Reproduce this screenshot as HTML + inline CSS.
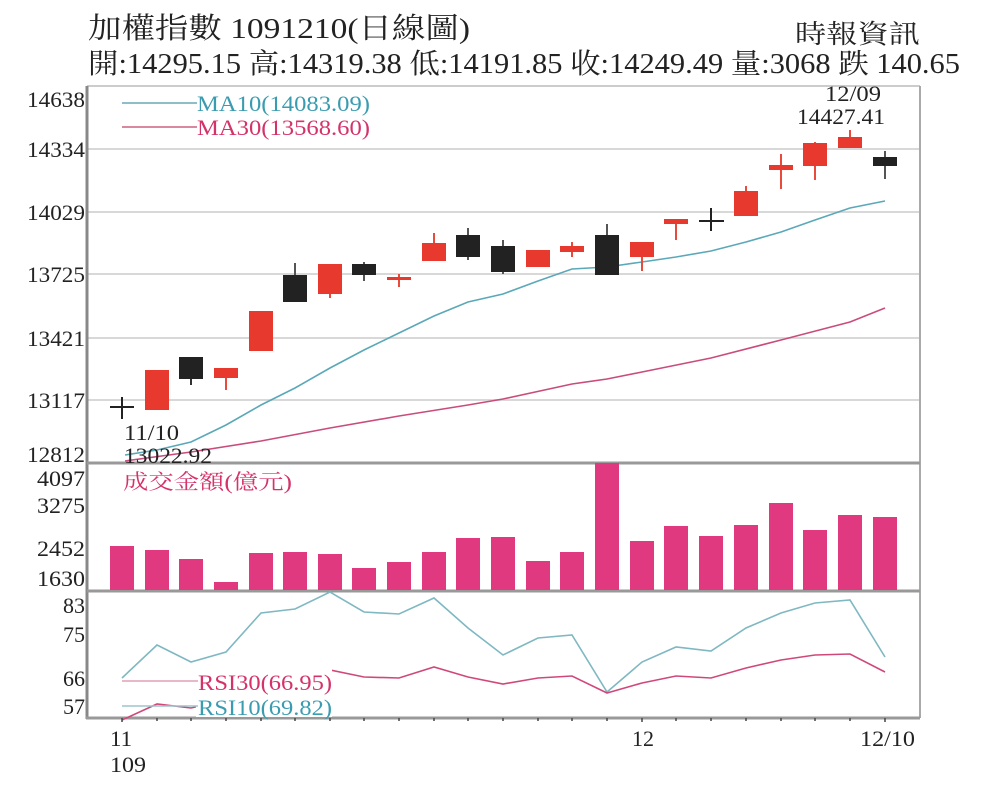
<!DOCTYPE html>
<html><head><meta charset="utf-8"><style>
html,body{margin:0;padding:0;background:#fff;}
svg{display:block;}
text{font-family:"Liberation Serif","Noto Serif CJK SC","Noto Sans CJK TC",serif;}
</style></head><body>
<svg width="1000" height="801" viewBox="0 0 1000 801" xmlns="http://www.w3.org/2000/svg">
<rect width="1000" height="801" fill="#fff"/>
<text x="88" y="38" font-size="29" fill="#222" textLength="382" lengthAdjust="spacingAndGlyphs">加權指數 1091210(日線圖)</text>
<text x="795" y="43" font-size="26" fill="#222" textLength="125" lengthAdjust="spacingAndGlyphs">時報資訊</text>
<text x="88" y="73" font-size="28" fill="#222" textLength="872" lengthAdjust="spacingAndGlyphs">開:14295.15 高:14319.38 低:14191.85 收:14249.49 量:3068 跌 140.65</text>
<g stroke="#d8d8d8" stroke-width="2">
<line x1="87" y1="149" x2="920" y2="149"/><line x1="87" y1="212" x2="920" y2="212"/>
<line x1="87" y1="274" x2="920" y2="274"/><line x1="87" y1="338" x2="920" y2="338"/>
<line x1="87" y1="400" x2="920" y2="400"/>
</g>
<g stroke="#999" stroke-width="2" fill="none">
<line x1="87" y1="86" x2="920" y2="86" stroke="#ccc"/>
<line x1="920" y1="86" x2="920" y2="718" stroke="#aaa"/>
<line x1="87" y1="86" x2="87" y2="719" stroke="#888" stroke-width="3"/>
<line x1="87" y1="463" x2="920" y2="463" stroke-width="3"/>
<line x1="87" y1="591" x2="920" y2="591" stroke-width="3"/>
<line x1="86" y1="718" x2="920" y2="718" stroke-width="3"/>
</g>
<g font-size="22" fill="#222" text-anchor="end">
<text x="85" y="107" textLength="58" lengthAdjust="spacingAndGlyphs">14638</text><text x="85" y="157" textLength="58" lengthAdjust="spacingAndGlyphs">14334</text><text x="85" y="220" textLength="58" lengthAdjust="spacingAndGlyphs">14029</text>
<text x="85" y="282" textLength="58" lengthAdjust="spacingAndGlyphs">13725</text><text x="85" y="346" textLength="58" lengthAdjust="spacingAndGlyphs">13421</text><text x="85" y="408" textLength="58" lengthAdjust="spacingAndGlyphs">13117</text>
<text x="85" y="462" textLength="58" lengthAdjust="spacingAndGlyphs">12812</text>
<text x="85" y="486" textLength="48" lengthAdjust="spacingAndGlyphs">4097</text><text x="85" y="513" textLength="48" lengthAdjust="spacingAndGlyphs">3275</text><text x="85" y="556" textLength="48" lengthAdjust="spacingAndGlyphs">2452</text><text x="85" y="586" textLength="48" lengthAdjust="spacingAndGlyphs">1630</text>
<text x="85" y="613">83</text><text x="85" y="642">75</text><text x="85" y="686">66</text><text x="85" y="714">57</text>
</g>
<line x1="122" y1="103" x2="197" y2="103" stroke="#8fbfc6" stroke-width="2"/>
<line x1="122" y1="127" x2="197" y2="127" stroke="#d9899f" stroke-width="2"/>
<text x="197" y="111" font-size="22" fill="#3a9cb0" textLength="173" lengthAdjust="spacingAndGlyphs">MA10(14083.09)</text>
<text x="197" y="135" font-size="22" fill="#d4326a" textLength="173" lengthAdjust="spacingAndGlyphs">MA30(13568.60)</text>
<polyline fill="none" stroke="#5aa8b8" stroke-width="1.6" points="125,455 157,450 191,442 226,425 261,405 295,388 330,368 364,350 399,333 434,316 468,302 503,294 538,281 572,269 607,267 642,262 676,257 711,251 746,242 781,232 815,220 850,208 885,201"/>
<polyline fill="none" stroke="#c94c7c" stroke-width="1.6" points="125,461 191,452 261,441 330,428 399,416 468,405 503,399 572,384 607,379 642,372 711,358 781,340 850,322 885,308"/>
<g stroke-width="2">
<line x1="110" y1="407" x2="134" y2="407" stroke="#222"/><line x1="122" y1="397" x2="122" y2="419" stroke="#222"/>
<line x1="191" y1="357" x2="191" y2="385" stroke="#333"/>
<line x1="226" y1="368" x2="226" y2="390" stroke="#e84b3c"/>
<line x1="295" y1="263" x2="295" y2="302" stroke="#555"/>
<line x1="330" y1="264" x2="330" y2="298" stroke="#e84b3c"/>
<line x1="364" y1="262" x2="364" y2="281" stroke="#555"/>
<line x1="399" y1="274" x2="399" y2="287" stroke="#e84b3c"/>
<line x1="434" y1="233" x2="434" y2="261" stroke="#e84b3c"/>
<line x1="468" y1="228" x2="468" y2="260" stroke="#555"/>
<line x1="503" y1="240" x2="503" y2="274" stroke="#555"/>
<line x1="572" y1="242" x2="572" y2="257" stroke="#e84b3c"/>
<line x1="607" y1="224" x2="607" y2="275" stroke="#555"/>
<line x1="642" y1="242" x2="642" y2="271" stroke="#e84b3c"/>
<line x1="676" y1="219" x2="676" y2="240" stroke="#e84b3c"/>
<line x1="711" y1="208" x2="711" y2="231" stroke="#222"/><line x1="699" y1="221" x2="724" y2="221" stroke="#222"/>
<line x1="746" y1="186" x2="746" y2="216" stroke="#e84b3c"/>
<line x1="781" y1="154" x2="781" y2="189" stroke="#e84b3c"/>
<line x1="815" y1="142" x2="815" y2="180" stroke="#e84b3c"/>
<line x1="850" y1="130" x2="850" y2="148" stroke="#e84b3c"/>
<line x1="885" y1="151" x2="885" y2="179" stroke="#555"/>
</g>
<g fill="#e8392e">
<rect x="145" y="370" width="24" height="40"/>
<rect x="214" y="368" width="24" height="10"/>
<rect x="249" y="311" width="24" height="40"/>
<rect x="318" y="264" width="24" height="30"/>
<rect x="387" y="277" width="24" height="3"/>
<rect x="422" y="243" width="24" height="18"/>
<rect x="526" y="250" width="24" height="17"/>
<rect x="560" y="246" width="24" height="6"/>
<rect x="630" y="242" width="24" height="15"/>
<rect x="664" y="219" width="24" height="5"/>
<rect x="734" y="191" width="24" height="25"/>
<rect x="769" y="165" width="24" height="5"/>
<rect x="803" y="143" width="24" height="23"/>
<rect x="838" y="137" width="24" height="11"/>
</g>
<g fill="#222">
<rect x="179" y="357" width="24" height="22"/>
<rect x="283" y="275" width="24" height="27"/>
<rect x="352" y="264" width="24" height="11"/>
<rect x="456" y="235" width="24" height="22"/>
<rect x="491" y="246" width="24" height="26"/>
<rect x="595" y="235" width="24" height="40"/>
<rect x="873" y="157" width="24" height="9"/>
</g>
<text x="853" y="101" font-size="22" fill="#222" text-anchor="middle" textLength="56" lengthAdjust="spacingAndGlyphs">12/09</text>
<text x="841" y="124" font-size="22" fill="#222" text-anchor="middle" textLength="88" lengthAdjust="spacingAndGlyphs">14427.41</text>
<text x="124" y="440" font-size="22" fill="#222" textLength="55" lengthAdjust="spacingAndGlyphs">11/10</text>
<text x="124" y="463" font-size="22" fill="#222" textLength="88" lengthAdjust="spacingAndGlyphs">13022.92</text>
<text x="123" y="489" font-size="21" fill="#d4326a" textLength="169" lengthAdjust="spacingAndGlyphs">成交金額(億元)</text>
<g fill="#e0397f">
<rect x="110" y="546" width="24" height="44"/><rect x="145" y="550" width="24" height="40"/>
<rect x="179" y="559" width="24" height="31"/><rect x="214" y="582" width="24" height="8"/>
<rect x="249" y="553" width="24" height="37"/><rect x="283" y="552" width="24" height="38"/>
<rect x="318" y="554" width="24" height="36"/><rect x="352" y="568" width="24" height="22"/>
<rect x="387" y="562" width="24" height="28"/><rect x="422" y="552" width="24" height="38"/>
<rect x="456" y="538" width="24" height="52"/><rect x="491" y="537" width="24" height="53"/>
<rect x="526" y="561" width="24" height="29"/><rect x="560" y="552" width="24" height="38"/>
<rect x="595" y="463" width="24" height="127"/><rect x="630" y="541" width="24" height="49"/>
<rect x="664" y="526" width="24" height="64"/><rect x="699" y="536" width="24" height="54"/>
<rect x="734" y="525" width="24" height="65"/><rect x="769" y="503" width="24" height="87"/>
<rect x="803" y="530" width="24" height="60"/><rect x="838" y="515" width="24" height="75"/>
<rect x="873" y="517" width="24" height="73"/>
</g>
<polyline fill="none" stroke="#7fb8c2" stroke-width="1.6" points="122,678 157,645 191,662 226,652 261,613 295,609 330,592 364,612 399,614 434,598 468,628 503,655 538,638 572,635 607,692 642,662 676,647 711,651 746,628 781,613 815,603 850,600 885,657"/>
<polyline fill="none" stroke="#d0487a" stroke-width="1.6" points="122,720 157,704 191,708 226,700 261,690 295,680 330,670 364,677 399,678 434,667 468,677 503,684 538,678 572,676 607,693 642,683 676,676 711,678 746,668 781,660 815,655 850,654 885,672"/>
<rect x="196" y="664" width="136" height="53" fill="#fff"/>
<line x1="122" y1="681" x2="198" y2="681" stroke="#e2a0b6" stroke-width="1.5"/>
<line x1="122" y1="706" x2="198" y2="706" stroke="#9cc6cd" stroke-width="1.5"/>
<text x="198" y="690" font-size="22" fill="#d4326a" textLength="134" lengthAdjust="spacingAndGlyphs">RSI30(66.95)</text>
<text x="198" y="715" font-size="22" fill="#3a9cb0" textLength="134" lengthAdjust="spacingAndGlyphs">RSI10(69.82)</text>
<g stroke="#444" stroke-width="1.5">
<line x1="122" y1="718" x2="122" y2="722"/><line x1="157" y1="718" x2="157" y2="721"/><line x1="191" y1="718" x2="191" y2="721"/><line x1="226" y1="718" x2="226" y2="721"/><line x1="261" y1="718" x2="261" y2="721"/><line x1="295" y1="718" x2="295" y2="721"/><line x1="330" y1="718" x2="330" y2="721"/><line x1="364" y1="718" x2="364" y2="721"/><line x1="399" y1="718" x2="399" y2="721"/><line x1="434" y1="718" x2="434" y2="721"/><line x1="468" y1="718" x2="468" y2="721"/><line x1="503" y1="718" x2="503" y2="721"/><line x1="538" y1="718" x2="538" y2="721"/><line x1="572" y1="718" x2="572" y2="721"/><line x1="607" y1="718" x2="607" y2="721"/><line x1="642" y1="718" x2="642" y2="722"/><line x1="676" y1="718" x2="676" y2="721"/><line x1="711" y1="718" x2="711" y2="721"/><line x1="746" y1="718" x2="746" y2="721"/><line x1="781" y1="718" x2="781" y2="721"/><line x1="815" y1="718" x2="815" y2="721"/><line x1="850" y1="718" x2="850" y2="721"/><line x1="885" y1="718" x2="885" y2="722"/>
</g>
<g font-size="22" fill="#222">
<text x="110" y="746" textLength="22" lengthAdjust="spacingAndGlyphs">11</text><text x="110" y="772" textLength="36" lengthAdjust="spacingAndGlyphs">109</text>
<text x="632" y="746" textLength="22" lengthAdjust="spacingAndGlyphs">12</text><text x="860" y="746" textLength="55" lengthAdjust="spacingAndGlyphs">12/10</text>
</g>
</svg>
</body></html>
